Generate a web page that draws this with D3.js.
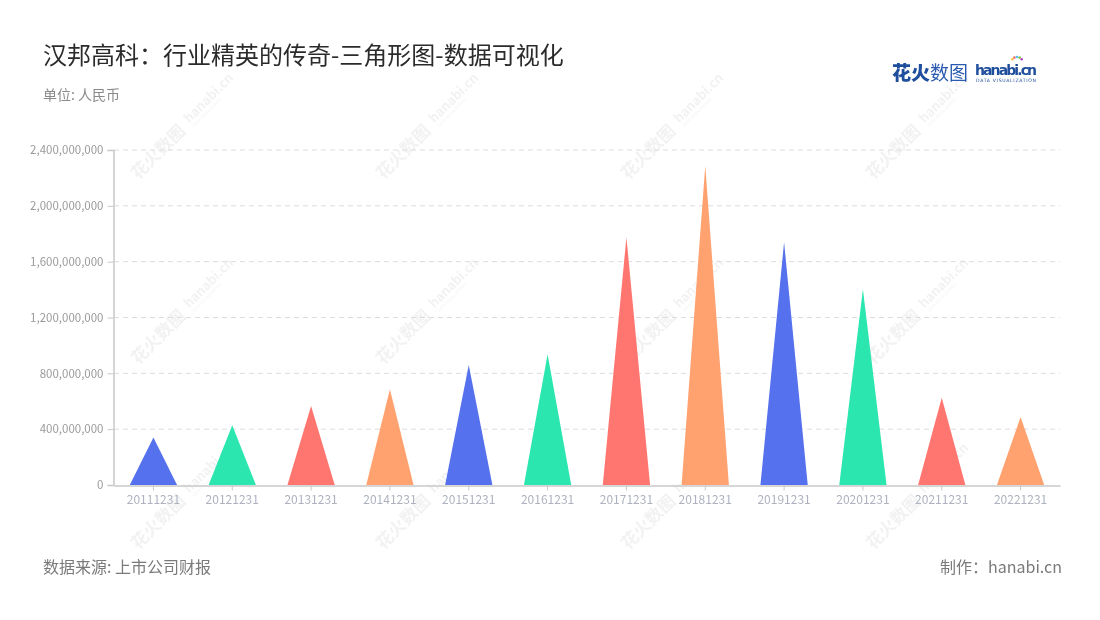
<!DOCTYPE html>
<html><head><meta charset="utf-8">
<script src="https://cdn.jsdelivr.net/npm/d3@7/dist/d3.min.js"></script>
<style>
html,body{margin:0;padding:0;background:#fff;}
svg{display:block;font-family:"Noto Sans CJK SC","Noto Sans",sans-serif;}
</style></head>
<body><svg id="c" width="1100" height="620"></svg>
<script>
const categories = ["20111231","20121231","20131231","20141231","20151231","20161231","20171231","20181231","20191231","20201231","20211231","20221231"];
const values = [340e6, 428e6, 566e6, 686e6, 860e6, 936e6, 1775e6, 2288e6, 1739e6, 1402e6, 625e6, 487e6];
const palette = ["#5571EE","#2CE6AF","#FF7670","#FFA26F"];
const yTicks = [0, 400e6, 800e6, 1200e6, 1600e6, 2000e6, 2400e6];
const title = "汉邦高科：行业精英的传奇-三角形图-数据可视化";
const unit = "单位: 人民币";
const source = "数据来源: 上市公司财报";
const maker = "制作：hanabi.cn";

const svg = d3.select("#c");
const m = {left:114, right:1060, top:150, bottom:485};

// watermarks
const wm = svg.append("g").attr("opacity",0.13);
[185, 430, 675, 920].forEach(cx => {
  [125, 310, 495].forEach(cy => {
    const g = wm.append("g").attr("transform",`translate(${cx},${cy}) rotate(-45)`);
    g.append("text").attr("x",-4).attr("y",6).attr("text-anchor","end")
      .attr("font-size",17).attr("font-weight",700).attr("fill","#999").text("花火数图");
    g.append("text").attr("x",4).attr("y",2).attr("text-anchor","start")
      .attr("font-size",13).attr("font-weight",700).attr("fill","#999").text("hanabi.cn");
    g.append("text").attr("x",5).attr("y",8).attr("text-anchor","start")
      .attr("font-size",4).attr("fill","#999").text("DATA VISUALIZATION");
  });
});

const x = d3.scaleBand().domain(categories).range([m.left, m.right]).paddingInner(0).paddingOuter(0);
const y = d3.scaleLinear().domain([0, 2400e6]).range([m.bottom, m.top]);

// grid
svg.append("g").selectAll("line").data(yTicks.slice(1)).join("line")
  .attr("x1", m.left).attr("x2", m.right)
  .attr("y1", d => y(d)).attr("y2", d => y(d))
  .attr("stroke","#dcdcdc").attr("stroke-dasharray","5,4").attr("stroke-width",1);

// y axis
const yAxis = svg.append("g").attr("transform",`translate(${m.left-0.5},0)`)
  .call(d3.axisLeft(y).tickValues(yTicks).tickFormat(d3.format(",")).tickSize(6).tickPadding(4));
yAxis.select(".domain").attr("stroke","#c8c8c8").attr("stroke-width",1.5);
yAxis.selectAll(".tick line").attr("stroke","#c8c8c8");
yAxis.selectAll(".tick text").attr("fill","#9a9a9a").attr("font-size",11.5)
  .attr("font-family","'Noto Sans CJK SC','Noto Sans',sans-serif");

// triangles
const triW = x.bandwidth()*0.6;
svg.append("g").selectAll("path").data(values).join("path")
  .attr("d", (v,i) => {
    const cx = x(categories[i]) + x.bandwidth()/2;
    return `M${cx-triW/2},${y(0)}L${cx},${y(v)}L${cx+triW/2},${y(0)}Z`;
  })
  .attr("fill", (v,i) => palette[i % palette.length]);

// x axis
const xAxis = svg.append("g").attr("transform",`translate(0,${m.bottom+0.5})`)
  .call(d3.axisBottom(x).tickSize(5).tickPadding(5).tickSizeOuter(0));
xAxis.select(".domain").attr("stroke","#c8c8c8").attr("stroke-width",1.5);
xAxis.selectAll(".tick line").attr("stroke","#c8c8c8");
xAxis.selectAll(".tick text").attr("fill","#aeb2bf").attr("font-size",12)
  .attr("font-family","'Noto Sans CJK SC','Noto Sans',sans-serif");

// titles
svg.append("text").attr("x",43).attr("y",64).attr("font-size",24).attr("fill","#2b2b2b").text(title);
svg.append("text").attr("x",43).attr("y",100).attr("font-size",14).attr("fill","#8a8a8a").text(unit);
svg.append("text").attr("x",43).attr("y",573).attr("font-size",16).attr("fill","#7a7a7a").text(source);
svg.append("text").attr("x",1062).attr("y",573).attr("text-anchor","end").attr("font-size",16).attr("fill","#7a7a7a").text(maker);

// logo
const lg = svg.append("g");
lg.append("text").attr("x",892).attr("y",80).attr("font-size",19).attr("font-weight",900).attr("fill","#1f4e9c").text("花火");
lg.append("text").attr("x",930).attr("y",80).attr("font-size",19).attr("fill","#2a5bb0").text("数图");
lg.append("text").attr("x",975).attr("y",75).attr("font-size",14).attr("font-weight",700).attr("fill","#1f4e9c")
  .attr("font-family","'DejaVu Sans',sans-serif").attr("textLength",62).text("hanabi.cn");
lg.append("text").attr("x",976).attr("y",81.5).attr("font-size",4.6).attr("fill","#1f4e9c")
  .attr("font-family","'DejaVu Sans',sans-serif").attr("textLength",60).text("DATA VISUALIZATION");
const dots = ["#f5c242","#ef6b6b","#4fc3f7","#8bc34a","#ab47bc"];
dots.forEach((c,i)=>{
  const a = -Math.PI/2 + (i-2)*0.45;
  lg.append("circle").attr("cx",1017+Math.cos(a)*6).attr("cy",63+Math.sin(a)*6).attr("r",1.3).attr("fill",c);
});
</script></body></html>
